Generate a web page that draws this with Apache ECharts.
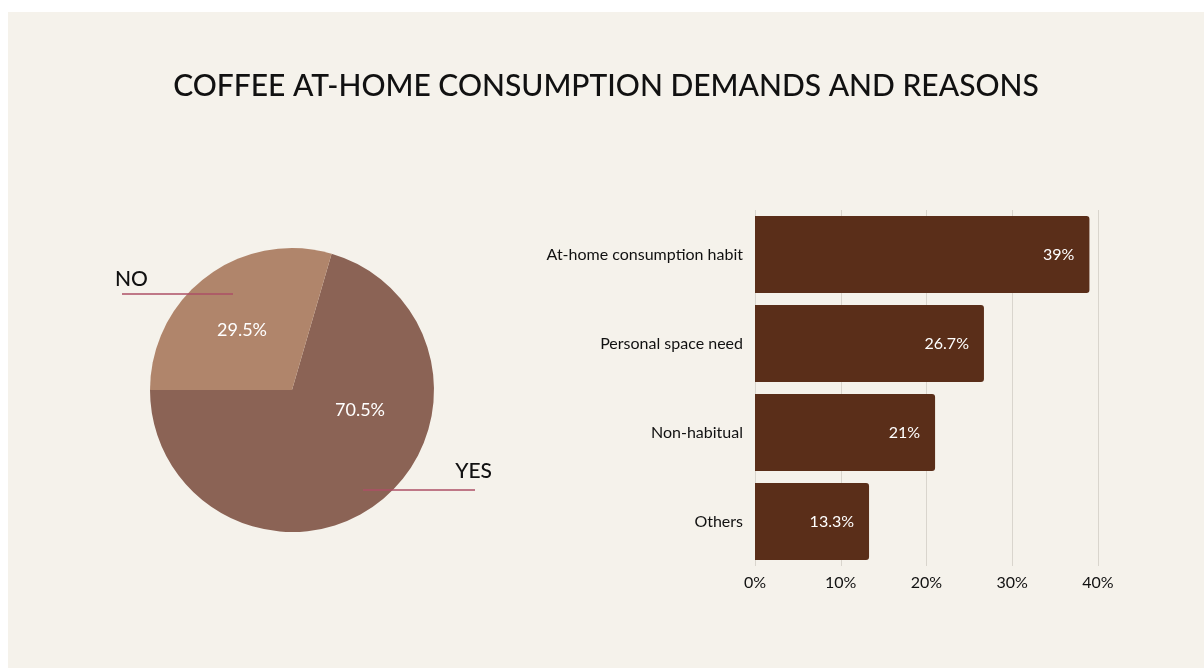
<!DOCTYPE html>
<html>
<head>
<meta charset="utf-8">
<script src="https://cdn.jsdelivr.net/npm/echarts@6/dist/echarts.min.js"></script>
<style>
  html, body { margin: 0; padding: 0; background: #ffffff; }
  #chart { position: absolute; left: 8px; top: 12px; width: 1196px; height: 656px; background: #f5f2eb; }
</style>
</head>
<body>
<div id="chart"></div>
<script>
// At-home consumption demand (pie)
const demandNames = ['YES', 'NO'];
const demandValues = [70.5, 29.5];

// Reasons (bar), listed top to bottom
const reasonNames = ['At-home consumption habit', 'Personal space need', 'Non-habitual', 'Others'];
const reasonValues = [39, 26.7, 21, 13.3];

// Value axis ticks
const axisMax = 40;
const axisStep = 10;

const FONT = 'Lato, "Noto Sans", sans-serif';
const pieColors = ['#8b6355', '#b0856b'];
const barColor = '#5a2e19';
const leaderColor = '#ad4f66';

// Pie geometry in pixels of the chart box
const PIE_CX = 284, PIE_CY = 378, PIE_R = 142;

const chart = echarts.init(document.getElementById('chart'));

const pieData = demandNames.map((n, i) => ({
  name: n, value: demandValues[i], itemStyle: { color: pieColors[i] }
}));

// positions of the in-slice percentage labels, relative to the pie centre
const innerLabelOffset = { YES: [68, 20], NO: [-50, -60] };
// name labels with horizontal leader lines, relative to the pie centre
const outerLabel = {
  NO:  { text: [-177, -111], align: 'left',  line: [[-59, -96], [-115, -96], [-170, -96]] },
  YES: { text: [200, 81],    align: 'right', line: [[71, 100], [127, 100], [183, 100]] }
};

chart.setOption({
  animation: false,
  title: {
    text: 'COFFEE AT-HOME CONSUMPTION DEMANDS AND REASONS',
    left: 'center',
    top: 54,
    textStyle: { fontFamily: FONT, fontSize: 30, fontWeight: 500, color: '#111111' }
  },
  grid: { left: 747, right: 106, top: 198, bottom: 102 },
  xAxis: {
    type: 'value', min: 0, max: axisMax, interval: axisStep,
    axisLine: { show: false }, axisTick: { show: false },
    splitLine: { show: true, lineStyle: { color: '#d9d5cd', width: 1 } },
    axisLabel: { formatter: '{value}%', fontFamily: FONT, fontSize: 16, color: '#111111', margin: 9 }
  },
  yAxis: {
    type: 'category', data: reasonNames, inverse: true,
    axisLine: { show: false }, axisTick: { show: false },
    axisLabel: { fontFamily: FONT, fontSize: 16, color: '#111111', margin: 12 }
  },
  series: [
    {
      type: 'bar',
      data: reasonValues,
      barWidth: 77,
      itemStyle: { color: barColor, borderRadius: [0, 3, 3, 0] },
      label: {
        show: true, position: 'insideRight', distance: 15,
        formatter: p => p.value + '%',
        fontFamily: FONT, fontSize: 16, color: '#ffffff'
      }
    },
    {
      type: 'pie',
      center: [PIE_CX, PIE_CY],
      radius: [0, PIE_R],
      startAngle: 73.8,
      clockwise: true,
      silent: true,
      data: pieData,
      label: {
        show: true, position: 'inside',
        formatter: p => p.value + '%',
        fontFamily: FONT, fontSize: 18, color: '#ffffff'
      },
      labelLine: { show: false },
      labelLayout: p => {
        const o = innerLabelOffset[demandNames[p.dataIndex]];
        return { x: PIE_CX + o[0], y: PIE_CY + o[1], align: 'center', verticalAlign: 'middle' };
      }
    },
    {
      type: 'pie',
      center: [PIE_CX, PIE_CY],
      radius: [0, PIE_R],
      startAngle: 73.8,
      clockwise: true,
      silent: true,
      z: 3,
      data: demandNames.map((n, i) => ({ name: n, value: demandValues[i] })),
      itemStyle: { color: 'rgba(0,0,0,0)' },
      label: {
        show: true, position: 'outside', formatter: '{b}',
        fontFamily: FONT, fontSize: 21, fontWeight: 500, color: '#111111'
      },
      labelLine: { show: true, lineStyle: { color: leaderColor, width: 1.5, opacity: 1 } },
      labelLayout: p => {
        const o = outerLabel[demandNames[p.dataIndex]];
        return {
          x: PIE_CX + o.text[0], y: PIE_CY + o.text[1],
          align: o.align, verticalAlign: 'middle',
          labelLinePoints: o.line.map(pt => [PIE_CX + pt[0], PIE_CY + pt[1]])
        };
      }
    }
  ]
});
</script>
</body>
</html>
